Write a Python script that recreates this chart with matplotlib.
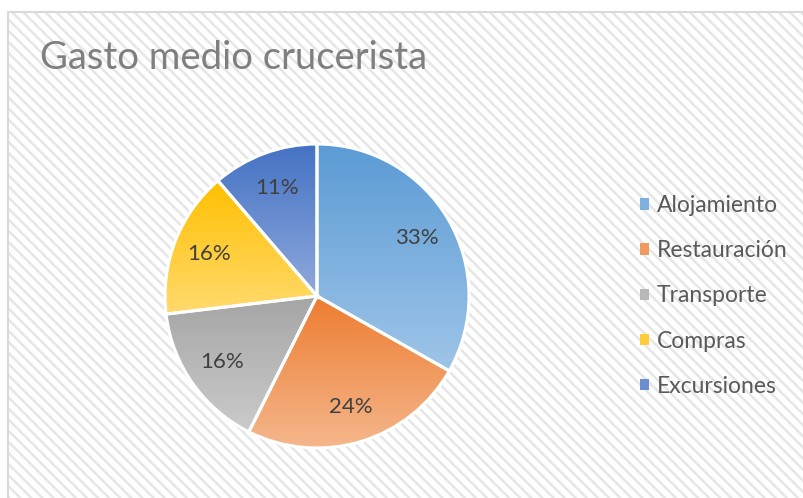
import numpy as np
import matplotlib
matplotlib.use("Agg")
from matplotlib import pyplot as plt
from matplotlib.patches import Rectangle, Patch
from matplotlib.colors import LinearSegmentedColormap, to_rgb

categorias = ["Alojamiento", "Restauración", "Transporte", "Compras", "Excursiones"]
gasto = [33.2, 24.2, 15.7, 15.6, 11.3]
color_arriba = ["#5b9bd5", "#ed7d31", "#a5a5a5", "#ffc000", "#4472c4"]
color_abajo = ["#9fc5e8", "#f5b78c", "#cbcbcb", "#ffda6e", "#8fa9dc"]
titulo = "Gasto medio crucerista"

plt.rcParams["font.family"] = ["Lato", "DejaVu Sans"]
plt.rcParams["hatch.linewidth"] = 1.8

W, H = 804, 498
fig = plt.figure(figsize=(W / 100, H / 100), dpi=100)
fig.patch.set_facecolor("white")

# fondo rayado del area del grafico
fondo = Rectangle((8 / W, -0.05), 1.1, 1 - 12 / H + 0.05, transform=fig.transFigure,
                  facecolor="white", edgecolor="#e6e6e6", hatch="\\\\\\", linewidth=0, zorder=-2)
fig.patches.append(fondo)
borde = Rectangle((8 / W, -0.05), 1.1, 1 - 12 / H + 0.05, transform=fig.transFigure,
                  facecolor="none", edgecolor="#d9d9d9", linewidth=1.5, zorder=-1)
fig.patches.append(borde)

fig.text(40 / W, 1 - 69 / H, titulo, fontsize=27.5, color="#7f7f7f", va="baseline", ha="left")

# pastel
cx, cy, r = 317, 296, 152
ax = fig.add_axes([(cx - r) / W, (H - cy - r) / H, 2 * r / W, 2 * r / H])
wedges, textos, pcts = ax.pie(gasto, startangle=90, counterclock=False,
                              autopct="%.0f%%", pctdistance=0.76,
                              wedgeprops=dict(linewidth=2.2, edgecolor="white"),
                              textprops=dict(fontsize=16, color="#404040"))
ax.axis("off")

grad = np.linspace(0, 1, 256).reshape(-1, 1)
for w, c1, c2 in zip(wedges, color_arriba, color_abajo):
    ext = w.get_path().get_extents()
    cmap = LinearSegmentedColormap.from_list("g", [c1, c2])
    im = ax.imshow(grad, cmap=cmap, aspect="auto", origin="upper",
                   extent=[ext.x0, ext.x1, ext.y0, ext.y1], zorder=0.5)
    im.set_clip_path(w)
    w.set_facecolor("none")
    w.set_zorder(1)
for p in pcts:
    p.set_zorder(2)
ax.set_xlim(-1, 1)
ax.set_ylim(-1, 1)
ax.set_aspect("equal")

for t in textos:
    t.set_text("")

# leyenda
mezcla = [tuple((np.array(to_rgb(a)) + np.array(to_rgb(b))) / 2)
          for a, b in zip(color_arriba, color_abajo)]
handles = [Patch(facecolor=c, edgecolor="none") for c in mezcla]
leg = fig.legend(handles, categorias, loc="center left", bbox_to_anchor=(640 / W, 1 - 296 / H),
                 frameon=False, fontsize=16.5, labelcolor="#595959", handlelength=0.4,
                 handleheight=0.4, handletextpad=0.32, labelspacing=1.05,
                 borderpad=0, borderaxespad=0)

fig.savefig("out.png", dpi=100)
